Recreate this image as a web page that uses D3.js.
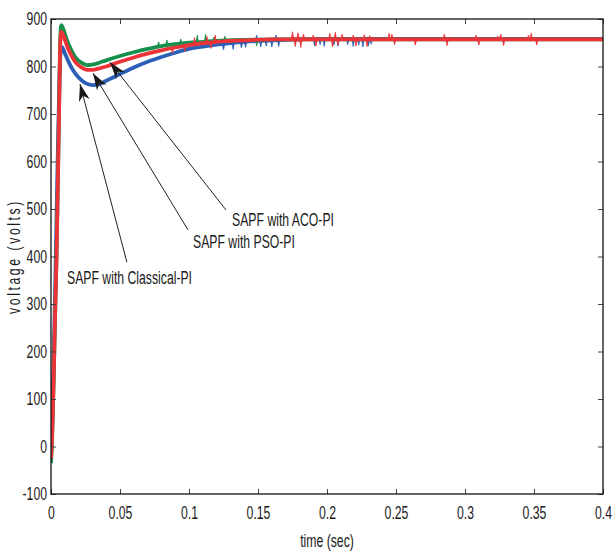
<!DOCTYPE html>
<html>
<head>
<meta charset="utf-8">
<script src="https://cdn.jsdelivr.net/npm/d3@7"></script>
<style>
  html, body { margin: 0; padding: 0; background: #fff; }
  svg { display: block; }
  text { font-family: "Liberation Sans", Arial, sans-serif; fill: #1a1a1a; }
</style>
</head>
<body>
<svg id="chart" width="614" height="551"></svg>
<script>
// ---- DC-link voltage response of the shunt active power filter ----
// time in seconds, voltage in volts

const xTicks = [0, 0.05, 0.1, 0.15, 0.2, 0.25, 0.3, 0.35, 0.4];
const xTickLabels = ["0", "0.05", "0.1", "0.15", "0.2", "0.25", "0.3", "0.35", "0.4"];
const yTicks = [-100, 0, 100, 200, 300, 400, 500, 600, 700, 800, 900];
const yTickLabels = ["-100", "0", "100", "200", "300", "400", "500", "600", "700", "800", "900"];

// SAPF with Classical-PI
const classicalPI = [
  [0, -20], [0.0008, 40], [0.002, 190], [0.003, 330], [0.004, 480], [0.005, 630],
  [0.006, 760], [0.007, 830], [0.008, 841], [0.010, 828], [0.013, 808], [0.016, 792],
  [0.020, 777], [0.025, 765], [0.030, 761], [0.035, 763], [0.040, 770], [0.045, 777],
  [0.050, 784], [0.060, 798], [0.070, 810], [0.080, 820], [0.090, 829], [0.100, 837],
  [0.110, 842], [0.120, 846], [0.130, 849], [0.140, 852], [0.160, 855], [0.180, 857],
  [0.200, 858], [0.300, 858], [0.400, 858]
];

// SAPF with ACO-PI
const acoPI = [
  [0, -35], [0.0008, 15], [0.002, 150], [0.003, 280], [0.004, 400], [0.005, 560],
  [0.006, 740], [0.0067, 860], [0.0075, 887], [0.009, 878], [0.012, 852], [0.015, 833],
  [0.018, 818], [0.022, 808], [0.026, 803], [0.030, 804], [0.035, 808], [0.040, 813],
  [0.050, 822], [0.060, 830], [0.070, 837], [0.080, 843], [0.090, 847], [0.100, 850],
  [0.110, 852], [0.120, 854], [0.140, 856], [0.160, 857], [0.200, 857], [0.400, 857]
];

// SAPF with PSO-PI
const psoPI = [
  [0, -25], [0.0008, 20], [0.002, 150], [0.003, 280], [0.004, 400], [0.005, 560],
  [0.006, 730], [0.0067, 845], [0.0075, 873], [0.009, 865], [0.012, 840], [0.015, 822],
  [0.018, 808], [0.022, 798], [0.026, 793], [0.030, 793], [0.035, 796], [0.040, 800],
  [0.050, 810], [0.060, 819], [0.070, 827], [0.080, 834], [0.090, 840], [0.100, 845],
  [0.110, 849], [0.120, 852], [0.140, 855], [0.160, 857], [0.200, 857], [0.300, 857],
  [0.400, 857]
];

// switching ripple spikes: [time, level, spike tip]
const classicalSpikes = [
  [0.125, 847, 835], [0.132, 850, 836], [0.138, 851, 839], [0.141, 852, 840],
  [0.149, 854, 866], [0.152, 854, 841], [0.156, 855, 843], [0.160, 855, 841],
  [0.163, 856, 866], [0.165, 856, 842], [0.191, 858, 843], [0.195, 858, 846],
  [0.198, 858, 842], [0.205, 858, 845], [0.208, 858, 843], [0.215, 858, 846],
  [0.219, 858, 842], [0.223, 858, 845], [0.226, 858, 841], [0.230, 858, 843],
  [0.232, 858, 847]
];
const acoSpikes = [
  [0.078, 842, 852], [0.084, 845, 856], [0.094, 848, 858], [0.106, 851, 866],
  [0.112, 852, 868], [0.118, 853, 862], [0.126, 855, 864], [0.149, 856, 843]
];
const psoSpikes = [
  [0.088, 840, 828], [0.097, 844, 832], [0.104, 847, 861], [0.113, 850, 863],
  [0.116, 851, 838], [0.119, 852, 866],
  [0.175, 857, 873], [0.177, 857, 842], [0.179, 857, 871], [0.181, 857, 840], [0.183, 857, 868],
  [0.190, 857, 866], [0.192, 857, 843],
  [0.202, 857, 870], [0.204, 857, 841], [0.206, 857, 872], [0.208, 857, 845], [0.211, 857, 868],
  [0.219, 857, 866], [0.221, 857, 843],
  [0.227, 857, 867], [0.229, 857, 842], [0.231, 857, 865],
  [0.245, 857, 870], [0.247, 857, 868], [0.249, 857, 846],
  [0.264, 857, 845],
  [0.285, 857, 868], [0.287, 857, 844], [0.289, 857, 862],
  [0.308, 857, 866], [0.310, 857, 845],
  [0.324, 857, 864], [0.326, 857, 868], [0.328, 857, 844],
  [0.346, 857, 866], [0.348, 857, 870], [0.352, 857, 845]
];

// callouts: label, label position [t, v], arrow tail [t, v], arrow tip [t, v]
const calloutLabels = ["SAPF with ACO-PI", "SAPF with PSO-PI", "SAPF with Classical-PI"];
const calloutTextAt = [[0.1312, 464], [0.1029, 418], [0.0116, 342]];
const calloutTail = [[0.1268, 498], [0.0993, 456], [0.0550, 388]];
const calloutTip = [[0.0428, 809], [0.0304, 786], [0.0210, 763]];

// ---- drawing ----
const plot = { left: 51, right: 603, top: 19, bottom: 494 };
const SX = 0.68;          // condensed face
const FS = 18;

const svg = d3.select("#chart");
const x = d3.scaleLinear().domain([0, 0.4]).range([plot.left, plot.right]);
const y = d3.scaleLinear().domain([-100, 900]).range([plot.bottom, plot.top]);

svg.append("defs").append("clipPath").attr("id", "plotClip")
  .append("rect")
  .attr("x", plot.left).attr("y", plot.top - 2)
  .attr("width", plot.right - plot.left).attr("height", plot.bottom - plot.top + 2);

const series = [
  { data: classicalPI, spikes: classicalSpikes, color: "#2b60b6" },
  { data: acoPI, spikes: acoSpikes, color: "#17904c" },
  { data: psoPI, spikes: psoSpikes, color: "#ec3338" }
];

const line = d3.line()
  .x(d => x(d[0]))
  .y(d => y(d[1]))
  .curve(d3.curveMonotoneX);

const gData = svg.append("g").attr("clip-path", "url(#plotClip)");
series.forEach(s => {
  gData.append("path")
    .datum(s.data)
    .attr("fill", "none")
    .attr("stroke", s.color)
    .attr("stroke-width", 3.8)
    .attr("stroke-linejoin", "round")
    .attr("d", line);
  gData.selectAll(null)
    .data(s.spikes)
    .enter().append("path")
    .attr("fill", s.color)
    .attr("stroke", s.color)
    .attr("stroke-width", 0.8)
    .attr("stroke-linejoin", "round")
    .attr("d", d => {
      const half = 0.0009;
      return "M" + x(d[0] - half) + "," + y(d[1]) +
             "L" + x(d[0]) + "," + y(d[2]) +
             "L" + x(d[0] + half) + "," + y(d[1]) + "Z";
    });
});

// axes: ticks point inward on all four sides
function styleAxis(g) {
  g.select(".domain").remove();
  g.selectAll(".tick line").attr("stroke", "#444").attr("stroke-width", 1);
  g.selectAll("text")
    .attr("font-size", FS)
    .attr("font-family", "Liberation Sans, Arial, sans-serif")
    .attr("fill", "#1a1a1a");
}

const gBottom = svg.append("g")
  .attr("transform", `translate(0,${plot.bottom})`)
  .call(d3.axisBottom(x).tickValues(xTicks)
    .tickFormat((d, i) => xTickLabels[i])
    .tickSizeInner(-5).tickSizeOuter(0).tickPadding(12));
styleAxis(gBottom);
gBottom.selectAll("text").attr("transform", `scale(${SX},1)`);

const gLeft = svg.append("g")
  .attr("transform", `translate(${plot.left},0)`)
  .call(d3.axisLeft(y).tickValues(yTicks)
    .tickFormat((d, i) => yTickLabels[i])
    .tickSizeInner(-5).tickSizeOuter(0).tickPadding(4));
styleAxis(gLeft);
gLeft.selectAll("text")
  .attr("x", -4 / SX)
  .attr("transform", `scale(${SX},1)`);

const gTop = svg.append("g")
  .attr("transform", `translate(0,${plot.top})`)
  .call(d3.axisTop(x).tickValues(xTicks).tickFormat("")
    .tickSizeInner(-5).tickSizeOuter(0));
styleAxis(gTop);

const gRight = svg.append("g")
  .attr("transform", `translate(${plot.right},0)`)
  .call(d3.axisRight(y).tickValues(yTicks).tickFormat("")
    .tickSizeInner(-5).tickSizeOuter(0));
styleAxis(gRight);

// frame
svg.append("rect")
  .attr("x", plot.left).attr("y", plot.top)
  .attr("width", plot.right - plot.left).attr("height", plot.bottom - plot.top)
  .attr("fill", "none").attr("stroke", "#111").attr("stroke-width", 1.3);

// axis titles
svg.append("text")
  .attr("transform", `translate(${(plot.left + plot.right) / 2},${plot.bottom + 53}) scale(${SX},1)`)
  .attr("text-anchor", "middle")
  .attr("font-size", FS)
  .text("time (sec)");

svg.append("text")
  .attr("transform", `translate(20,${(plot.top + plot.bottom) / 2}) rotate(-90) scale(${SX},1)`)
  .attr("text-anchor", "middle")
  .attr("font-size", FS)
  .attr("letter-spacing", 3.8)
  .text("voltage (volts)");

// callouts with dart arrowheads
const gCall = svg.append("g");
calloutLabels.forEach((label, i) => {
  const tx = x(calloutTail[i][0]), ty = y(calloutTail[i][1]);
  const hx = x(calloutTip[i][0]), hy = y(calloutTip[i][1]);
  const ang = Math.atan2(hy - ty, hx - tx) * 180 / Math.PI;
  gCall.append("line")
    .attr("x1", tx).attr("y1", ty).attr("x2", hx).attr("y2", hy)
    .attr("stroke", "#222").attr("stroke-width", 1);
  gCall.append("path")
    .attr("transform", `translate(${hx},${hy}) rotate(${ang})`)
    .attr("d", "M0,0 L-17,-5.5 L-12,0 L-17,5.5 Z")
    .attr("fill", "#1a1a1a");
  gCall.append("text")
    .attr("transform", `translate(${x(calloutTextAt[i][0])},${y(calloutTextAt[i][1])}) scale(${SX},1)`)
    .attr("font-size", FS)
    .text(label);
});
</script>
</body>
</html>
